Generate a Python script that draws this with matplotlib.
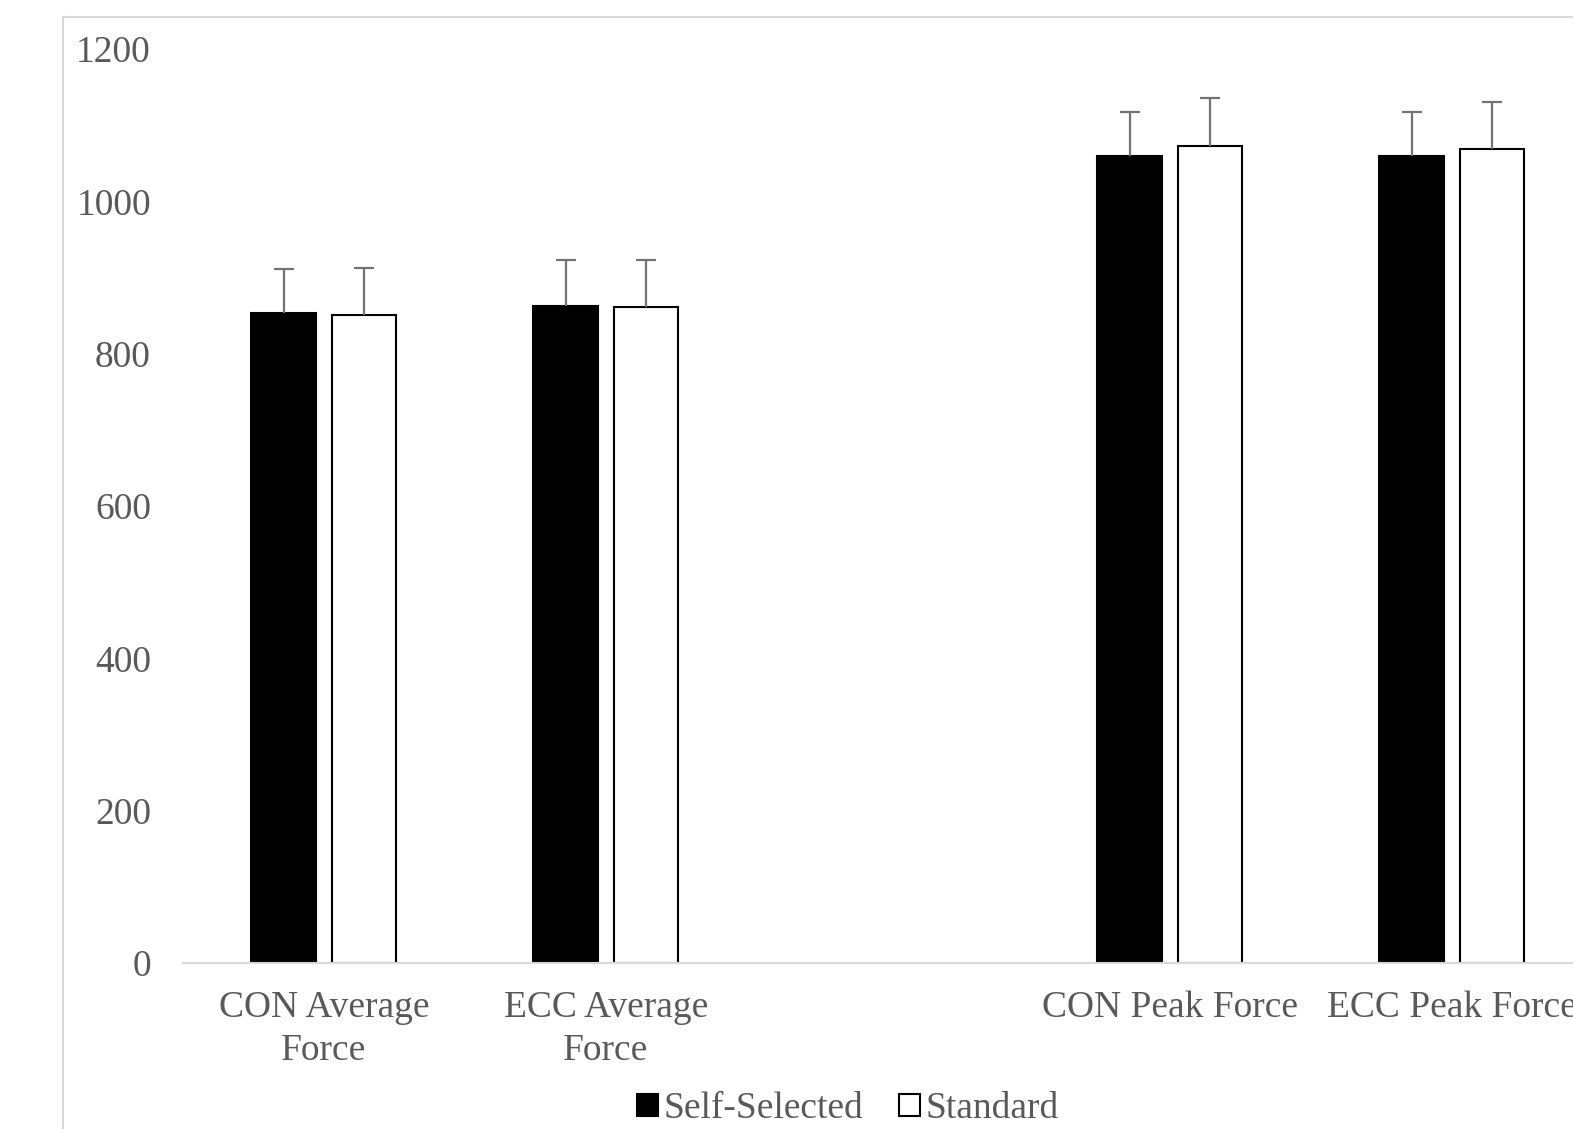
import matplotlib.pyplot as plt
from matplotlib.patches import Patch
from matplotlib.lines import Line2D

# category labels (the empty one is the blank slot between the groups)
categories = ['CON Average\nForce', 'ECC Average\nForce', '', 'CON Peak Force', 'ECC Peak Force']
self_selected = [853, 863, None, 1060, 1060]
standard = [851, 861, None, 1072, 1068]
self_err = [58, 60, None, 57, 57]
standard_err = [62, 62, None, 63, 63]

plt.rcParams['font.family'] = ['Liberation Serif', 'DejaVu Serif']
text_grey = '#595959'

fig = plt.figure(figsize=(15.73, 11.33), dpi=100)
ax = fig.add_axes([0.1163, 0.150, 0.8964, 0.8068])

# keep only the filled slots for drawing
idx = [i for i, v in enumerate(self_selected) if v is not None]
ss = [self_selected[i] for i in idx]
st = [standard[i] for i in idx]
sse = [self_err[i] for i in idx]
ste = [standard_err[i] for i in idx]

w = 0.23
off = 0.142
x1 = [i - off for i in idx]
x2 = [i + off for i in idx]

ax.bar(x1, ss, width=w, color='black', edgecolor='black', linewidth=1.5, zorder=2)
ax.bar(x2, st, width=w, color='white', edgecolor='black', linewidth=1.5, zorder=2)
for xs, ys, es in [(x1, ss, sse), (x2, st, ste)]:
    _, caps, _ = ax.errorbar(xs, ys, yerr=[[0] * len(ys), es], fmt='none', ecolor='#737373',
                             elinewidth=1.6, capsize=7, capthick=1.6, zorder=3)
    caps[0].set_visible(False)  # only the upper cap

ax.set_xlim(-0.5, len(categories) - 0.5)
ax.set_ylim(0, 1200)
ax.set_yticks(range(0, 1201, 200))
ax.set_xticks(range(len(categories)))
ax.set_xticklabels(categories, linespacing=1.3)
ax.tick_params(axis='both', length=0, labelsize=27, colors=text_grey)
ax.tick_params(axis='y', pad=23)
ax.tick_params(axis='x', pad=20)

for s in ['top', 'right', 'left']:
    ax.spines[s].set_visible(False)
ax.spines['bottom'].set_color('#d9d9d9')
ax.spines['bottom'].set_linewidth(1.5)

# outer chart border (cropped on the right and bottom)
H = 1133.0
W = 1573.0
fig.add_artist(Line2D([63 / W, 63 / W], [1 - 17 / H, 1 - 1128 / H], color='#d9d9d9', lw=1.5))
fig.add_artist(Line2D([63 / W, 1.0], [1 - 17 / H, 1 - 17 / H], color='#d9d9d9', lw=1.5))

handles = [Patch(facecolor='black', edgecolor='black', linewidth=1.5, label='Self-Selected'),
           Patch(facecolor='white', edgecolor='black', linewidth=1.5, label='Standard')]
leg = fig.legend(handles=handles, loc='center', bbox_to_anchor=(848 / W, 1 - 1109 / H),
                 ncol=2, frameon=False, fontsize=27, handlelength=0.55, handleheight=0.55,
                 handletextpad=0.15, columnspacing=0.95)
for t in leg.get_texts():
    t.set_color(text_grey)

fig.savefig('out.png', dpi=100)
